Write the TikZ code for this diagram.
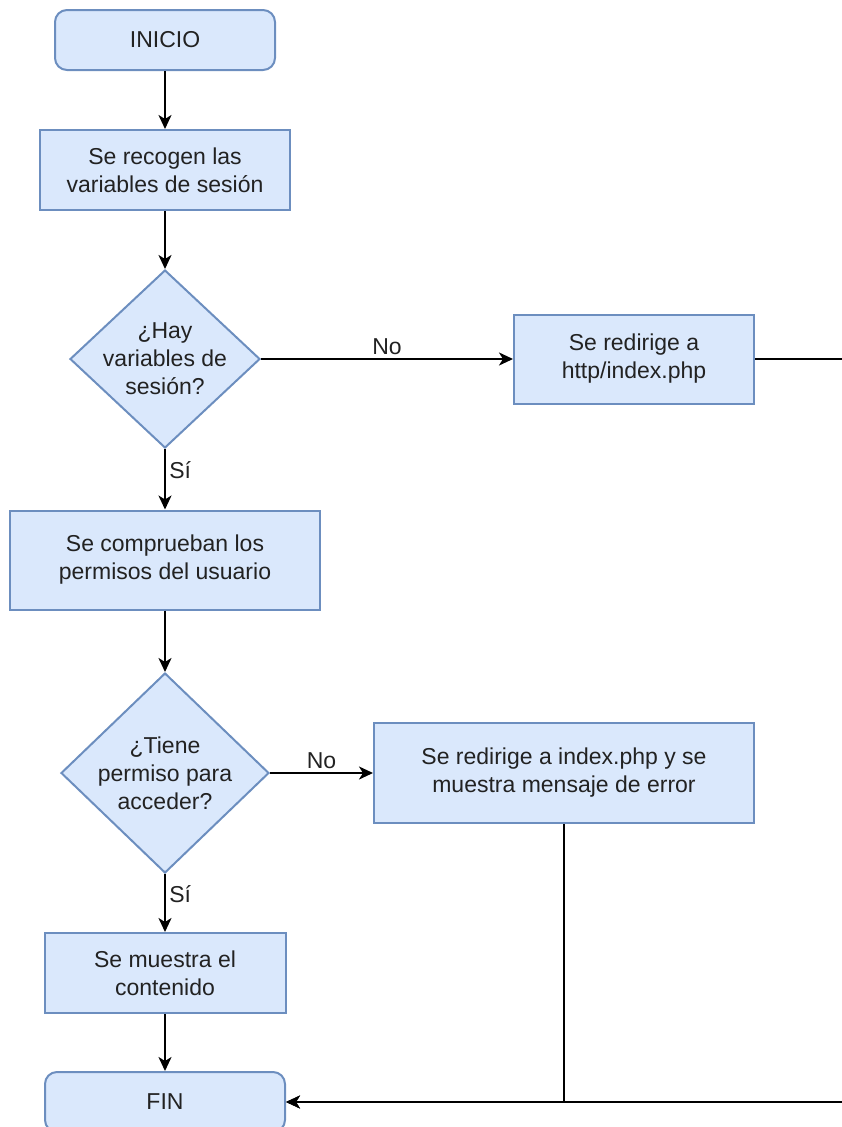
\documentclass[tikz,border=0pt]{standalone}
\usepackage{fontspec}
\setmainfont{Liberation Sans}
\usepackage{xcolor}
\usepackage{tikz}
\usetikzlibrary{shapes.geometric,arrows.meta}

\definecolor{fondoazul}{HTML}{DAE8FC}
\definecolor{bordeazul}{HTML}{6C8EBF}
\definecolor{texto}{HTML}{222222}

\tikzset{
  caja/.style={draw=bordeazul, fill=fondoazul, line width=2pt, align=center,
    text=texto, font=\fontsize{23}{28}\selectfont, inner sep=0pt},
  terminal/.style={caja, rounded corners=12pt},
  decision/.style={caja, diamond, inner sep=-30pt},
  flecha/.style={-{Stealth[length=14pt,width=13pt,inset=4pt]}, line width=2pt},
  etiqueta/.style={text=texto, font=\fontsize{23}{28}\selectfont}
}

\begin{document}
\begin{tikzpicture}[x=1pt, y=-1pt]
\useasboundingbox (0,0) rectangle (842,1127);

\node[terminal, minimum width=220pt, minimum height=60pt] (inicio) at (165,40) {INICIO};
\node[caja, minimum width=250pt, minimum height=80pt] (recoger) at (165,170) {Se recogen las\\variables de sesión};
\node[decision, minimum width=190pt, minimum height=178pt] (hayvars) at (165,359) {¿Hay\\variables de\\sesión?};
\node[caja, minimum width=240pt, minimum height=89pt] (redir1) at (634,359) {Se redirige a\\http/index.php};
\node[caja, minimum width=310pt, minimum height=99pt] (comprobar) at (165,560) {Se comprueban los\\permisos del usuario};
\node[decision, minimum width=208pt, minimum height=200pt] (permiso) at (165,773) {¿Tiene\\permiso para\\acceder?};
\node[caja, minimum width=380pt, minimum height=100pt] (redir2) at (564,773) {Se redirige a index.php y se\\muestra mensaje de error};
\node[caja, minimum width=241pt, minimum height=80pt] (contenido) at (165,973) {Se muestra el\\contenido};
\node[terminal, minimum width=240pt, minimum height=60pt] (fin) at (165,1102) {FIN};

\coordinate (salida) at (880,359);

\draw[flecha] (inicio) -- (recoger);
\draw[flecha] (recoger) -- (hayvars);
\draw[flecha] (hayvars) -- node[etiqueta, above] {No} (redir1);
\draw[flecha] (hayvars) -- node[etiqueta, right, pos=0.35] {Sí} (comprobar);
\draw[flecha] (comprobar) -- (permiso);
\draw[flecha] (permiso) -- node[etiqueta, above] {No} (redir2);
\draw[flecha] (permiso) -- node[etiqueta, right, pos=0.35] {Sí} (contenido);
\draw[flecha] (contenido) -- (fin);
\draw[flecha] (redir1) -- (salida) |- (fin);
\draw[flecha] (redir2) |- (fin);
\end{tikzpicture}
\end{document}
